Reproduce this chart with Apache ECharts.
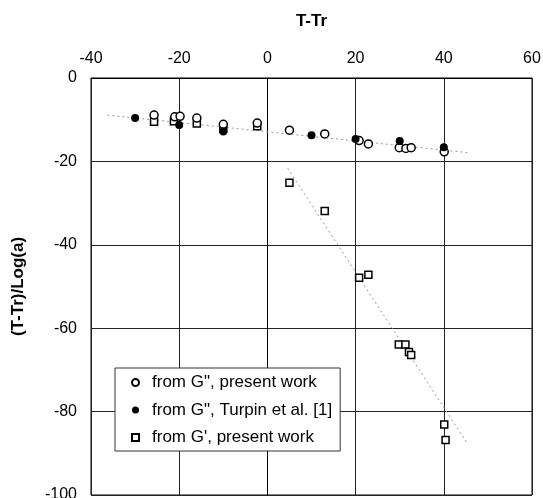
<!DOCTYPE html>
<html>
<head>
<meta charset="utf-8">
<script src="https://cdn.jsdelivr.net/npm/echarts@6/dist/echarts.min.js"></script>
<style>
html,body{margin:0;padding:0;background:#fff;}
#chartBox{width:543px;height:498px;}
</style>
</head>
<body>
<div id="chartBox"></div>
<script>
// T-Tr ticks
const xTicks = { min: -40, max: 60, step: 20 };
const yTicks = { min: -100, max: 0, step: 20 };

// from G'', present work
const gppPresent = [
	[-25.7, -8.9], [-21, -9.3], [-19.8, -9.2], [-16, -9.6], [-10, -11.1], [-2.3, -10.8],
	[5, -12.5], [13, -13.4], [20.8, -15.0], [22.9, -15.8], [29.9, -16.7], [31.4, -16.9],
	[32.6, -16.7], [40.1, -17.7]
];
// from G'', Turpin et al. [1]
const gppTurpin = [
	[-30, -9.6], [-20, -11.3], [-10, -12.8], [10, -13.7], [20, -14.6], [30, -15.1], [40, -16.6]
];
// from G', present work
const gpPresent = [
	[-25.7, -10.5], [-21.2, -10.4], [-16, -10.9], [-10, -12.2], [-2.3, -11.6], [5, -25.1],
	[13, -31.9], [20.8, -47.9], [22.9, -47.2], [29.8, -63.9], [31.3, -63.9], [32.1, -65.7],
	[32.6, -66.4], [40.1, -83.1], [40.4, -86.8]
];
// dotted trend lines (end points)
const trendGpp = [[-36.3, -8.9], [45.5, -17.9]];
const trendGp = [[4.6, -21.6], [45.3, -87.6]];

const names = ['from G", present work', 'from G", Turpin et al. [1]', "from G', present work"];

const font = "'Liberation Sans', Arial, sans-serif";

let myChart = echarts.init(document.getElementById('chartBox'));
let option = {
	backgroundColor: '#fff',
	animation: false,
	textStyle: { fontFamily: font, color: '#000' },
	grid: {
		left: 91, right: 11, top: 78, bottom: 3,
		outerBoundsMode: 'none',
		containLabel: false,
		show: true, borderColor: '#000', borderWidth: 1
	},
	legend: {
		data: names,
		orient: 'vertical',
		left: 115,
		top: 368,
		backgroundColor: '#fff',
		borderColor: '#333',
		borderWidth: 1,
		borderRadius: 0,
		padding: [6, 8, 5, 16],
		itemWidth: 7,
		itemHeight: 7,
		itemGap: 10.5,
		textStyle: { fontFamily: font, fontSize: 17, color: '#000', lineHeight: 17, padding: [0, 0, 0, 8] }
	},
	xAxis: {
		type: 'value',
		position: 'top',
		min: xTicks.min, max: xTicks.max, interval: xTicks.step,
		name: 'T-Tr',
		nameLocation: 'middle',
		nameGap: 48,
		nameMoveOverlap: false,
		nameTextStyle: { fontFamily: font, fontSize: 17, fontWeight: 'bold', color: '#000' },
		axisLine: { show: true, lineStyle: { color: '#000', width: 1 } },
		axisTick: { show: false },
		axisLabel: { fontFamily: font, fontSize: 16, color: '#000', margin: 11 },
		splitLine: { show: true, lineStyle: { color: '#222', width: 1 } }
	},
	yAxis: {
		type: 'value',
		min: yTicks.min, max: yTicks.max, interval: yTicks.step,
		name: '(T-Tr)/Log(a)',
		nameLocation: 'middle',
		nameGap: 64,
		nameMoveOverlap: false,
		nameTextStyle: { fontFamily: font, fontSize: 17, fontWeight: 'bold', color: '#000' },
		axisLine: { show: true, lineStyle: { color: '#000', width: 1 } },
		axisTick: { show: false },
		axisLabel: { fontFamily: font, fontSize: 16, color: '#000', margin: 14 },
		splitLine: { show: true, lineStyle: { color: '#222', width: 1 } }
	},
	series: [
		{
			type: 'line', data: trendGpp, showSymbol: false, symbol: 'none', silent: true,
			lineStyle: { color: '#999', width: 1, type: [2, 3] }, z: 1
		},
		{
			type: 'line', data: trendGp, showSymbol: false, symbol: 'none', silent: true,
			lineStyle: { color: '#999', width: 1, type: [2, 3] }, z: 1
		},
		{
			name: names[0], type: 'scatter', data: gppPresent,
			symbol: 'circle', symbolSize: 8,
			itemStyle: { color: '#fff', borderColor: '#000', borderWidth: 1.5, opacity: 1 }, z: 3
		},
		{
			name: names[1], type: 'scatter', data: gppTurpin,
			symbol: 'circle', symbolSize: 8,
			itemStyle: { color: '#000', borderColor: '#000', borderWidth: 0, opacity: 1 }, z: 4
		},
		{
			name: names[2], type: 'scatter', data: gpPresent,
			symbol: 'rect', symbolSize: 7,
			itemStyle: { color: '#fff', borderColor: '#000', borderWidth: 1.5, opacity: 1 }, z: 2
		}
	]
};
myChart.setOption(option, true);
</script>
</body>
</html>
